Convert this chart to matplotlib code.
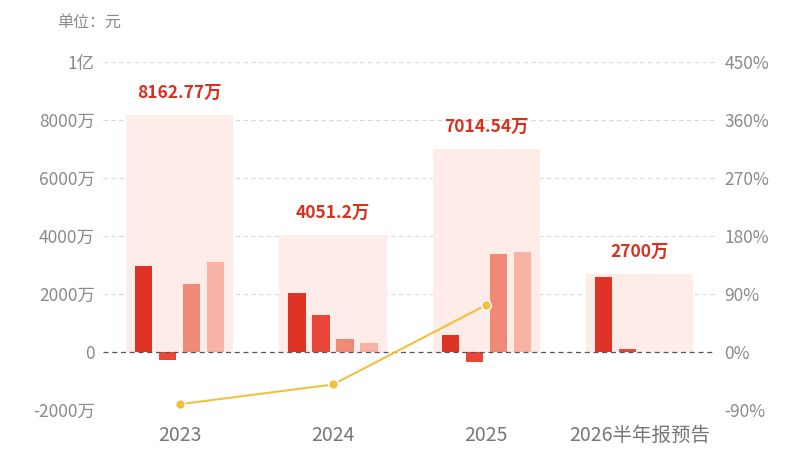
import matplotlib
matplotlib.use("Agg")
import matplotlib.pyplot as plt
import numpy as np

plt.rcParams['font.family'] = ['Noto Sans CJK SC', 'DejaVu Sans']

categories = ["2023", "2024", "2025", "2026半年报预告"]
totals = [8162.77, 4051.2, 7014.54, 2700]           # 万元
total_labels = ["8162.77万", "4051.2万", "7014.54万", "2700万"]
q1 = [2966, 2045, 575, 2597]
q2 = [-276, 1264, -355, 103]
q3 = [2345, 448, 3368, 0]
q4 = [3114, 310, 3437, 0]
growth = [-81, -50.4, 73.1]                          # %
left_ticks = [-2000, 0, 2000, 4000, 6000, 8000, 10000]
left_labels = ["-2000万", "0", "2000万", "4000万", "6000万", "8000万", "1亿"]
right_ticks = [-90, 0, 90, 180, 270, 360, 450]
right_labels = ["-90%", "0%", "90%", "180%", "270%", "360%", "450%"]

fig = plt.figure(figsize=(8, 4.5), dpi=100)
ax = fig.add_axes([0.129, 0.0889, 0.766, 0.773])
x = np.arange(len(categories))

# background totals
ax.bar(x, totals, width=0.7, color="#FDECE8", zorder=1)

series = [q1, q2, q3, q4]
colors = ["#DE3325", "#EA4637", "#F08A77", "#F9B3A5"]
offsets = [-0.235, -0.078, 0.078, 0.235]
for vals, c, off in zip(series, colors, offsets):
    ax.bar(x + off, vals, width=0.112, color=c, zorder=3)

for xi, t, lab in zip(x, totals, total_labels):
    ax.text(xi, t + 450, lab, ha="center", va="bottom", color="#D9301F",
            fontsize=12.5, fontweight="bold", zorder=5)

ax.set_xlim(-0.5, 3.5)
ax.set_ylim(-2000, 10000)
ax.set_yticks(left_ticks)
ax.set_yticklabels(left_labels)
ax.set_xticks(x)
ax.set_xticklabels(categories)

for t in left_ticks:
    if t == 0:
        ax.axhline(t, color="#555555", lw=0.9, ls=(0, (4, 3)), zorder=4)
    else:
        ax.axhline(t, color="#D8D8D8", lw=0.8, ls=(0, (4, 3)), zorder=0)

for s in ax.spines.values():
    s.set_visible(False)
ax.tick_params(axis="y", length=0, pad=6, labelsize=12.5, labelcolor="#8A8A8A")
ax.tick_params(axis="x", length=0, pad=11, labelsize=14, labelcolor="#777777")

ax2 = ax.twinx()
ax2.set_ylim(-90, 450)
ax2.set_yticks(right_ticks)
ax2.set_yticklabels(right_labels)
ax2.tick_params(axis="y", length=0, pad=6, labelsize=12.5, labelcolor="#8A8A8A")
for s in ax2.spines.values():
    s.set_visible(False)
ax2.plot(x[:len(growth)], growth, color="#F0C040", lw=1.5, marker="o",
         markersize=7, markerfacecolor="#F0C040", markeredgecolor="white",
         markeredgewidth=1, zorder=6)

fig.text(0.071, 0.95, "单位：元", color="#8A8A8A", fontsize=11.5, va="center")

fig.savefig("out.png", dpi=100)
